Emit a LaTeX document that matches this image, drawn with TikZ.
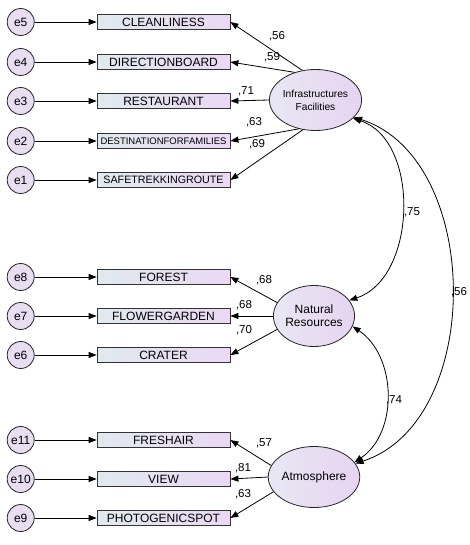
\documentclass[tikz,border=0pt]{standalone}
\usepackage{fontspec}
\setmainfont{Liberation Sans}
\usepackage{tikz}
\usetikzlibrary{shapes.geometric, arrows.meta, positioning}
\definecolor{boxleft}{HTML}{E1EAEE}
\definecolor{boxright}{HTML}{EAD8F4}
\definecolor{latleft}{HTML}{E9E7F3}
\definecolor{latright}{HTML}{E6D4F1}
\definecolor{errfill}{HTML}{E9DDF2}

\begin{document}
\begin{tikzpicture}[
    x=1pt, y=-1pt,
    errnode/.style={circle, draw=black!85, line width=0.8pt, fill=errfill,
                    minimum size=27pt, inner sep=0pt, font=\fontsize{12}{14}\selectfont},
    obsbox/.style={rectangle, draw=black!80, line width=0.8pt,
                   left color=boxleft, right color=boxright,
                   minimum width=133pt, minimum height=15pt, inner sep=1pt,
                   font=\fontsize{12}{14}\selectfont},
    latent/.style={ellipse, draw=black!85, line width=0.8pt,
                   left color=latleft, right color=latright,
                   minimum width=74pt, minimum height=61pt, inner sep=0pt,
                   align=center, font=\fontsize{12}{13}\selectfont},
    arrow/.style={-{Triangle[length=8pt, width=6pt]}, line width=0.8pt},
    covarrow/.style={{Triangle[length=8pt, width=6pt]}-{Triangle[length=8pt, width=6pt]}, line width=0.8pt},
    coef/.style={font=\fontsize{11.5}{13}\selectfont, inner sep=0pt},
]
\useasboundingbox (0,0) rectangle (470,545);

% latent variables
\node[latent] (infra) at (315.5,100) {\fontsize{10.2}{12}\selectfont Infrastructures\\\fontsize{10.2}{12}\selectfont Facilities};
\node[latent] (natres) at (314,316) {Natural\\Resources};
\node[latent] (atmos) at (314,477) {Atmosphere};

% indicators
\node[obsbox] (clean) at (163.5,22) {CLEANLINESS};
\node[obsbox] (dirboard) at (163.5,62) {DIRECTIONBOARD};
\node[obsbox] (resto) at (163.5,101) {RESTAURANT};
\node[obsbox, font=\fontsize{9.5}{11}\selectfont] (destfam) at (163.5,141) {DESTINATIONFORFAMILIES};
\node[obsbox, font=\fontsize{10.7}{12}\selectfont] (safetrek) at (163.5,180) {SAFETREKKINGROUTE};
\node[obsbox] (forest) at (163.5,277) {FOREST};
\node[obsbox] (flower) at (163.5,316) {FLOWERGARDEN};
\node[obsbox] (crater) at (163.5,355) {CRATER};
\node[obsbox] (fresh) at (163.5,440) {FRESHAIR};
\node[obsbox] (view) at (163.5,479) {VIEW};
\node[obsbox] (photo) at (163.5,518) {PHOTOGENICSPOT};

% error terms
\node[errnode, left=62pt of clean] (e5) {e5};
\node[errnode, left=62pt of dirboard] (e4) {e4};
\node[errnode, left=62pt of resto] (e3) {e3};
\node[errnode, left=62pt of destfam] (e2) {e2};
\node[errnode, left=62pt of safetrek] (e1) {e1};
\node[errnode, left=62pt of forest] (e8) {e8};
\node[errnode, left=62pt of flower] (e7) {e7};
\node[errnode, left=62pt of crater] (e6) {e6};
\node[errnode, left=62pt of fresh] (e11) {e11};
\node[errnode, left=62pt of view] (e10) {e10};
\node[errnode, left=62pt of photo] (e9) {e9};

\draw[arrow] (e5) -- (clean);
\draw[arrow] (e4) -- (dirboard);
\draw[arrow] (e3) -- (resto);
\draw[arrow] (e2) -- (destfam);
\draw[arrow] (e1) -- (safetrek);
\draw[arrow] (e8) -- (forest);
\draw[arrow] (e7) -- (flower);
\draw[arrow] (e6) -- (crater);
\draw[arrow] (e11) -- (fresh);
\draw[arrow] (e10) -- (view);
\draw[arrow] (e9) -- (photo);

% loadings
\draw[arrow] (infra.114) -- (clean.east);
\draw[arrow] (infra.127) -- (dirboard.east);
\draw[arrow] (infra.180) -- (resto.east);
\draw[arrow] (infra.-120) -- (destfam.east);
\draw[arrow] (infra.-113) -- (safetrek.east);
\draw[arrow] (natres.160) -- (forest.east);
\draw[arrow] (natres.180) -- (flower.east);
\draw[arrow] (natres.200) -- (crater.east);
\draw[arrow] (atmos.165) -- (fresh.east);
\draw[arrow] (atmos.180) -- (view.east);
\draw[arrow] (atmos.200) -- (photo.east);

\node[coef] (lclean) at (277,36) {,56};
\node[coef] (ldir) at (272,57) {,59};
\node[coef] (lresto) at (246,91) {,71};
\node[coef] (ldest) at (254,122) {,63};
\node[coef] (lsafe) at (257,144) {,69};
\node[coef] (lforest) at (264,280) {,68};
\node[coef] (lflower) at (244,305) {,68};
\node[coef] (lcrater) at (244,330) {,70};
\node[coef] (lfresh) at (264,443) {,57};
\node[coef] (lview) at (243,468) {,81};
\node[coef] (lphoto) at (243,494) {,63};

% covariances
\draw[covarrow] (infra.-26) to[out=-18, in=18] (natres.24);
\draw[covarrow] (infra.-24) to[out=-18, in=18] (atmos.18);
\draw[covarrow] (natres.-15) to[out=-34, in=34] (atmos.20);

\node[coef] (cov1) at (412,212) {,75};
\node[coef] (cov2) at (459,292) {,56};
\node[coef] (cov3) at (394,400) {,74};

\end{tikzpicture}
\end{document}
